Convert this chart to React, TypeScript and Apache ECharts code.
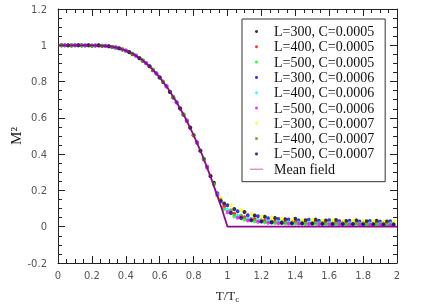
import React, { useEffect, useRef } from "react";
import * as echarts from "echarts";

// Temperature grids (T/Tc) for each C group
const T_C5 = [0.02, 0.08, 0.14, 0.20, 0.26, 0.32, 0.38, 0.44, 0.50, 0.56, 0.62, 0.68, 0.74, 0.80, 0.86, 0.92, 0.98, 1.04, 1.10, 1.16, 1.22, 1.28, 1.34, 1.40, 1.46, 1.52, 1.58, 1.64, 1.70, 1.76, 1.82, 1.88, 1.94];
const T_C6 = [0.04, 0.10, 0.16, 0.22, 0.28, 0.34, 0.40, 0.46, 0.52, 0.58, 0.64, 0.70, 0.76, 0.82, 0.88, 0.94, 1.00, 1.06, 1.12, 1.18, 1.24, 1.30, 1.36, 1.42, 1.48, 1.54, 1.60, 1.66, 1.72, 1.78, 1.84, 1.90, 1.96];
const T_C7 = [0.06, 0.12, 0.18, 0.24, 0.30, 0.36, 0.42, 0.48, 0.54, 0.60, 0.66, 0.72, 0.78, 0.84, 0.90, 0.96, 1.02, 1.08, 1.14, 1.20, 1.26, 1.32, 1.38, 1.44, 1.50, 1.56, 1.62, 1.68, 1.74, 1.80, 1.86, 1.92, 1.98];

// M^2 values per series
const L300_C5 = [1.000, 0.999, 1.000, 0.998, 0.997, 0.990, 0.976, 0.951, 0.914, 0.862, 0.797, 0.712, 0.617, 0.506, 0.375, 0.242, 0.128, 0.098, 0.081, 0.062, 0.055, 0.048, 0.041, 0.044, 0.036, 0.039, 0.034, 0.037, 0.031, 0.035, 0.030, 0.033, 0.029];
const L400_C5 = [1.000, 1.000, 0.999, 0.999, 0.996, 0.991, 0.978, 0.953, 0.916, 0.864, 0.799, 0.714, 0.619, 0.503, 0.371, 0.236, 0.112, 0.072, 0.052, 0.041, 0.033, 0.029, 0.025, 0.027, 0.022, 0.023, 0.020, 0.022, 0.018, 0.020, 0.017, 0.019, 0.016];
const L500_C5 = [0.999, 1.000, 1.000, 0.998, 0.998, 0.992, 0.977, 0.955, 0.918, 0.866, 0.801, 0.717, 0.620, 0.504, 0.373, 0.233, 0.098, 0.058, 0.040, 0.030, 0.024, 0.021, 0.018, 0.017, 0.015, 0.016, 0.013, 0.014, 0.012, 0.013, 0.011, 0.012, 0.010];
const L300_C6 = [1.000, 1.000, 0.999, 0.999, 0.996, 0.987, 0.970, 0.942, 0.901, 0.845, 0.773, 0.686, 0.585, 0.465, 0.330, 0.185, 0.118, 0.085, 0.063, 0.058, 0.047, 0.043, 0.040, 0.035, 0.038, 0.033, 0.036, 0.030, 0.033, 0.029, 0.032, 0.028, 0.030];
const L400_C6 = [1.000, 0.999, 1.000, 1.000, 0.997, 0.988, 0.972, 0.944, 0.903, 0.847, 0.776, 0.688, 0.586, 0.462, 0.327, 0.178, 0.095, 0.062, 0.044, 0.036, 0.030, 0.027, 0.024, 0.022, 0.023, 0.019, 0.021, 0.018, 0.019, 0.017, 0.018, 0.016, 0.017];
const L500_C6 = [1.000, 1.000, 1.000, 0.999, 0.998, 0.989, 0.971, 0.943, 0.902, 0.846, 0.775, 0.685, 0.583, 0.463, 0.326, 0.174, 0.080, 0.050, 0.034, 0.027, 0.022, 0.019, 0.017, 0.016, 0.015, 0.014, 0.014, 0.013, 0.012, 0.012, 0.011, 0.011, 0.010];
const L300_C7 = [1.000, 1.000, 0.999, 1.000, 0.996, 0.985, 0.964, 0.931, 0.886, 0.825, 0.746, 0.655, 0.549, 0.421, 0.285, 0.160, 0.120, 0.092, 0.070, 0.056, 0.050, 0.044, 0.040, 0.037, 0.039, 0.034, 0.036, 0.032, 0.034, 0.030, 0.031, 0.029, 0.030];
const L400_C7 = [0.999, 1.000, 1.000, 0.999, 0.995, 0.984, 0.962, 0.930, 0.884, 0.823, 0.744, 0.653, 0.547, 0.420, 0.280, 0.148, 0.090, 0.060, 0.043, 0.035, 0.029, 0.026, 0.023, 0.022, 0.020, 0.021, 0.018, 0.019, 0.017, 0.018, 0.016, 0.017, 0.015];
const L500_C7 = [1.000, 1.000, 1.000, 1.000, 0.995, 0.984, 0.963, 0.929, 0.884, 0.822, 0.743, 0.652, 0.546, 0.418, 0.278, 0.140, 0.075, 0.048, 0.035, 0.028, 0.023, 0.021, 0.018, 0.017, 0.016, 0.015, 0.014, 0.014, 0.013, 0.012, 0.012, 0.011, 0.011];

// Mean-field curve
const MF_T = [0, 0.1, 0.2, 0.3, 0.35, 0.4, 0.45, 0.5, 0.55, 0.6, 0.65, 0.7, 0.75, 0.8, 0.85, 0.9, 0.95, 0.97, 0.98, 0.99, 1.0, 2.0];
const MF_M2 = [1, 1, 1, 0.995, 0.987, 0.971, 0.949, 0.917, 0.875, 0.823, 0.760, 0.686, 0.602, 0.505, 0.397, 0.276, 0.144, 0.0895, 0.059, 0.0296, 0, 0];

const SERIES = [
  { name: "L=300, C=0.0005", t: T_C5, v: L300_C5, color: "#000000" },
  { name: "L=400, C=0.0005", t: T_C5, v: L400_C5, color: "#ff0000" },
  { name: "L=500, C=0.0005", t: T_C5, v: L500_C5, color: "#00ff00" },
  { name: "L=300, C=0.0006", t: T_C6, v: L300_C6, color: "#0000ff" },
  { name: "L=400, C=0.0006", t: T_C6, v: L400_C6, color: "#00ffff" },
  { name: "L=500, C=0.0006", t: T_C6, v: L500_C6, color: "#ff00ff" },
  { name: "L=300, C=0.0007", t: T_C7, v: L300_C7, color: "#ffff00" },
  { name: "L=400, C=0.0007", t: T_C7, v: L400_C7, color: "#808000" },
  { name: "L=500, C=0.0007", t: T_C7, v: L500_C7, color: "#000080" },
];

const X_TICKS = { min: 0, max: 2, interval: 0.2 };
const Y_TICKS = { min: -0.2, max: 1.2, interval: 0.2 };

export default function App() {
  const ref = useRef<HTMLDivElement>(null);
  useEffect(() => {
    if (!ref.current) return;
    const chart = echarts.init(ref.current, null, { renderer: "svg" });
    const axisLine = { show: true, onZero: false, lineStyle: { color: "#222", width: 1 } };
    const axisTick = { show: true, inside: true, length: 7, lineStyle: { color: "#222", width: 1 } };
    const minorTick = { show: true, splitNumber: 4, length: 4, lineStyle: { color: "#222", width: 1 } };
    const labelStyle = { fontFamily: "DejaVu Sans", fontSize: 10, color: "#555" };
    const scatter = SERIES.map((s) => ({
      name: s.name,
      type: "scatter",
      symbol: "circle",
      symbolSize: 4,
      itemStyle: { color: s.color },
      data: s.t.map((t, i) => [t, s.v[i]]),
      z: 2,
    }));
    chart.setOption({
      animation: false,
      grid: { left: 58, right: 25, top: 9, bottom: 42, containLabel: false, outerBoundsMode: "none" },
      xAxis: [
        {
          type: "value",
          position: "bottom",
          ...X_TICKS,
          axisLine,
          axisTick,
          minorTick,
          splitLine: { show: false },
          axisLabel: { ...labelStyle, margin: 7 },
          name: "{a|T/T}{b|c}",
          nameLocation: "middle",
          nameGap: 24,
          nameMoveOverlap: false,
          nameTextStyle: {
            rich: {
              a: { fontFamily: "Liberation Serif", fontSize: 13, color: "#222", lineHeight: 16 },
              b: { fontFamily: "Liberation Serif", fontSize: 9, color: "#222", lineHeight: 10, verticalAlign: "bottom" },
            },
          },
        },
        {
          type: "value",
          position: "top",
          ...X_TICKS,
          axisLine,
          axisTick,
          minorTick,
          splitLine: { show: false },
          axisLabel: { show: false },
        },
      ],
      yAxis: [
        {
          type: "value",
          position: "left",
          ...Y_TICKS,
          axisLine,
          axisTick,
          minorTick,
          splitLine: { show: false },
          axisLabel: { ...labelStyle, margin: 11 },
          name: "M²",
          nameLocation: "middle",
          nameGap: 35,
          nameMoveOverlap: false,
          nameTextStyle: { fontFamily: "Liberation Serif", fontSize: 15, color: "#222" },
        },
        {
          type: "value",
          position: "right",
          ...Y_TICKS,
          axisLine,
          axisTick,
          minorTick,
          splitLine: { show: false },
          axisLabel: { show: false },
        },
      ],
      legend: {
        orient: "vertical",
        left: 242,
        top: 19,
        padding: [5, 11, 5, 8],
        itemWidth: 13,
        itemHeight: 3,
        itemGap: 0.3,
        borderColor: "#333",
        borderWidth: 1,
        backgroundColor: "#ffffff",
        textStyle: { fontFamily: "Liberation Serif", fontSize: 14, color: "#111", lineHeight: 15, padding: [0, 0, 0, 6] },
        data: [
          ...SERIES.map((s) => ({ name: s.name, icon: "circle" })),
          { name: "Mean field", icon: "path://M0 0H13V1H0z", itemStyle: { color: "#b070b0" } },
        ],
      },
      series: [
        ...scatter,
        {
          name: "Mean field",
          type: "line",
          showSymbol: false,
          symbol: "none",
          data: MF_T.map((t, i) => [t, MF_M2[i]]),
          lineStyle: { color: "#8b0a8b", width: 1.8 },
          itemStyle: { color: "#8b0a8b" },
          z: 3,
        },
      ],
    });
    return () => chart.dispose();
  }, []);
  return <div ref={ref} style={{ position: "fixed", left: 0, top: 0, width: 422, height: 305 }} />;
}
